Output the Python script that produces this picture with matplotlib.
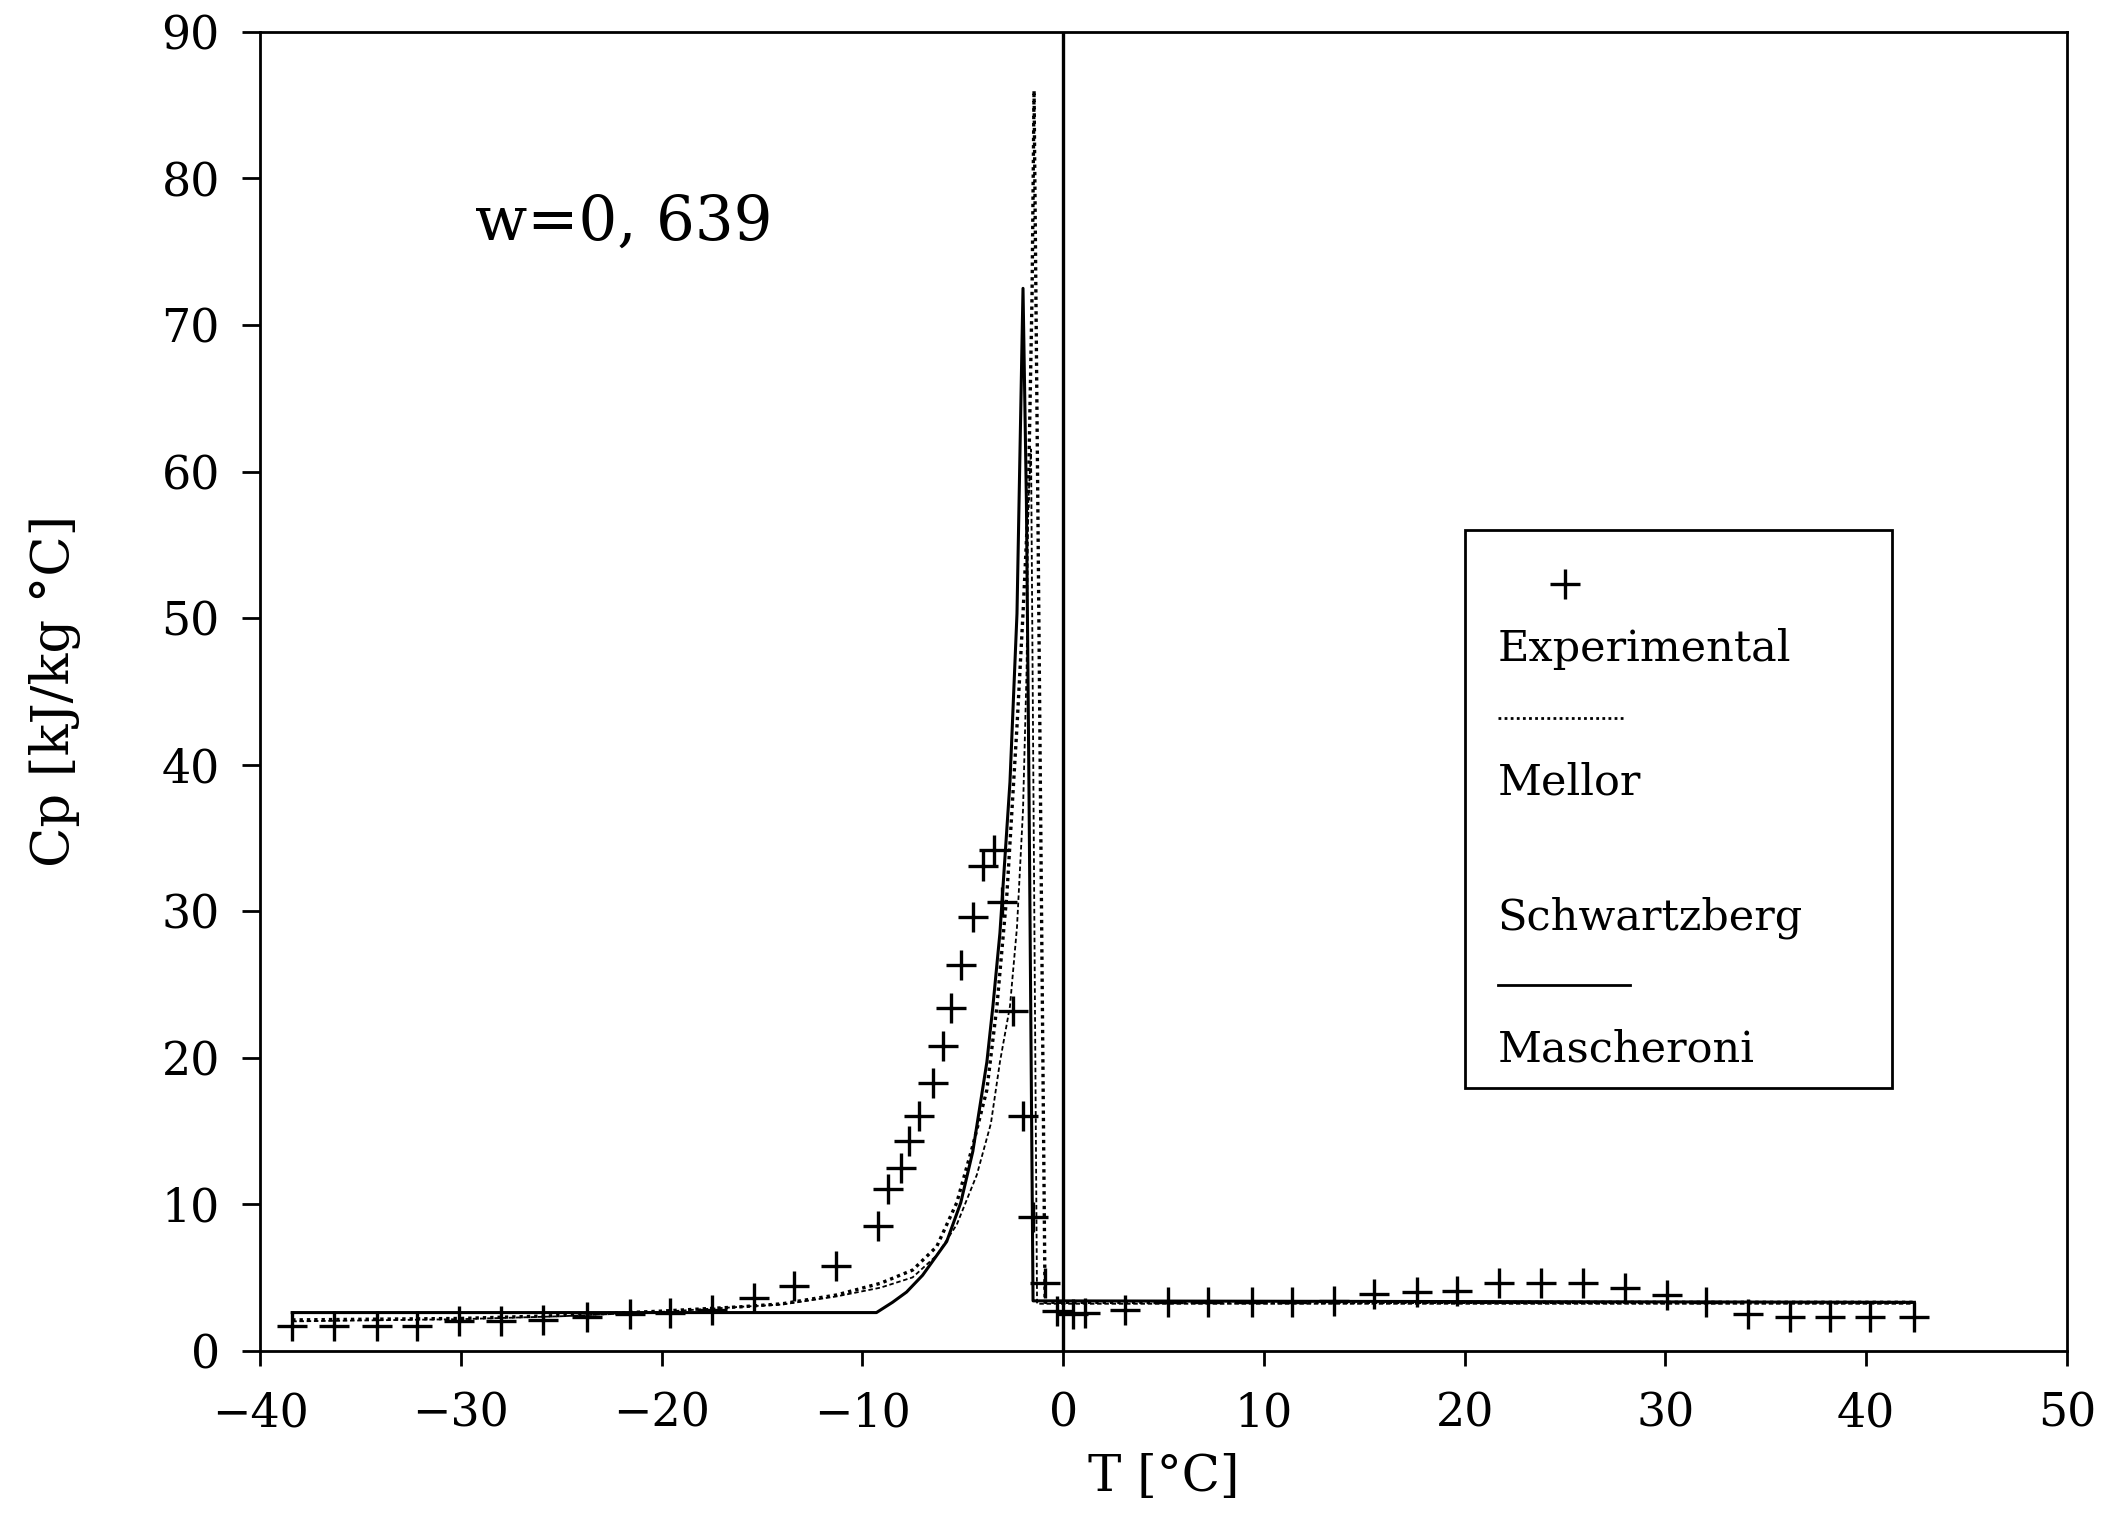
import numpy as np
import matplotlib
matplotlib.use("Agg")
import matplotlib.pyplot as plt

plt.rcParams['font.family'] = ['DejaVu Serif']

# experimental points
T_exp = [-38.4, -36.3, -34.2, -32.2, -30.1, -28.0, -25.9, -23.7, -21.6, -19.6, -17.5, -15.4,
         -13.4, -11.3, -9.2, -8.7, -8.1, -7.7, -7.2, -6.5, -6.0, -5.6, -5.1, -4.5, -4.0, -3.45,
         -3.06, -2.5, -2.0, -1.5, -0.9, -0.3, 0.5, 1.1, 3.1, 5.2, 7.2, 9.4, 11.4, 13.5, 15.5,
         17.6, 19.6, 21.7, 23.8, 25.9, 28.0, 30.1, 32.0, 34.1, 36.2, 38.2, 40.2, 42.4]
Cp_exp = [1.7, 1.7, 1.7, 1.7, 2.0, 2.0, 2.1, 2.3, 2.5, 2.6, 2.75, 3.6,
          4.4, 5.8, 8.5, 11.0, 12.5, 14.3, 16.0, 18.3, 20.8, 23.4, 26.3, 29.6, 33.1, 34.2,
          30.6, 23.2, 16.0, 9.1, 4.6, 2.7, 2.5, 2.6, 2.8, 3.3, 3.3, 3.3, 3.3, 3.4, 3.9,
          4.0, 4.1, 4.6, 4.6, 4.6, 4.25, 3.8, 3.3, 2.5, 2.3, 2.3, 2.3, 2.3]

# Mellor model
T_mel = [-38.4, -30, -25, -20, -16, -14, -11.3, -9.1, -7.5, -6.3, -5.3, -4.5, -3.8, -3.3,
         -2.8, -2.3, -2.0, -1.74, -1.55, -1.45, -0.9, 42.4]
Cp_mel = [2.1, 2.2, 2.4, 2.7, 3.0, 3.2, 3.8, 4.6, 5.5, 7.1, 10.1, 14.0, 17.8, 23.5,
          31.2, 42.6, 50.3, 57.9, 72.0, 86.0, 3.3, 3.3]

# Schwartzberg model
T_sch = [-38.4, -30, -25, -20, -16, -14, -11.3, -9.1, -7.5, -6.3, -5.3, -4.3, -3.6, -3.15,
         -2.65, -2.3, -2.0, -1.82, -1.74, -1.6, -1.3, 42.4]
Cp_sch = [2.0, 2.15, 2.35, 2.65, 3.0, 3.15, 3.7, 4.3, 5.0, 6.5, 8.6, 12.0, 15.5, 19.7,
          23.5, 28.9, 36.9, 46.5, 57.9, 61.5, 3.2, 3.2]

# Mascheroni model
T_mas = [-38.4, -9.3, -8.5, -7.8, -7.0, -5.8, -5.1, -4.5, -3.8, -3.5, -3.15, -2.65, -2.3,
         -2.0, -1.83, -1.7, -1.5, 42.4]
Cp_mas = [2.6, 2.6, 3.3, 4.0, 5.15, 7.45, 10.1, 13.6, 19.7, 23.5, 28.5, 38.8, 50.3,
          72.5, 57.9, 38.0, 3.4, 3.3]

x_ticks = [-40, -30, -20, -10, 0, 10, 20, 30, 40, 50]
y_ticks = [0, 10, 20, 30, 40, 50, 60, 70, 80, 90]

fig = plt.figure(figsize=(21.25, 15.2), dpi=100)
ax = fig.add_axes([0.1224, 0.1114, 0.8503, 0.8676])

ax.plot(T_mel, Cp_mel, color='black', lw=2.4, linestyle=(0, (1, 1.2)))
ax.plot(T_sch, Cp_sch, color='black', lw=1.3, linestyle=(0, (2.5, 1.5)))
ax.plot(T_mas, Cp_mas, color='black', lw=2.2, linestyle='-')
ax.plot(T_exp, Cp_exp, linestyle='none', marker='+', color='black', markersize=22, mew=2.4)
ax.axvline(0, color='black', lw=2.4)

ax.set_xlim(-40, 50)
ax.set_ylim(0, 90)
ax.set_xticks(x_ticks)
ax.set_yticks(y_ticks)
ax.tick_params(axis='x', direction='out', length=11, width=2, labelsize=33, pad=18)
ax.tick_params(axis='y', direction='out', length=13, width=2, labelsize=33, pad=16)
for s in ax.spines.values():
    s.set_linewidth(2)

ax.set_xlabel('T [°C]', fontsize=36, labelpad=12)
ax.set_ylabel('Cp [kJ/kg °C]', fontsize=38, labelpad=58)

ax.text(-29.3, 77, 'w=0, 639', fontsize=44, va='center', ha='left')

# legend box drawn by hand (sample above label)
tr = ax.transAxes
ax.add_patch(plt.Rectangle((0.667, 0.199), 0.236, 0.423, transform=tr,
                           fill=False, edgecolor='black', lw=2))
ax.plot([0.722], [0.581], transform=tr, marker='+', color='black', markersize=22, mew=2.4)
ax.text(0.685, 0.532, 'Experimental', transform=tr, fontsize=31, va='center')
ax.plot([0.685, 0.755], [0.480, 0.480], transform=tr, color='black', lw=2.0,
        linestyle=(0, (1, 1.2)))
ax.text(0.685, 0.431, 'Mellor', transform=tr, fontsize=31, va='center')
ax.text(0.685, 0.328, 'Schwartzberg', transform=tr, fontsize=31, va='center')
ax.plot([0.685, 0.758], [0.277, 0.277], transform=tr, color='black', lw=2.0)
ax.text(0.685, 0.228, 'Mascheroni', transform=tr, fontsize=31, va='center')

fig.savefig('out.png', dpi=100)
